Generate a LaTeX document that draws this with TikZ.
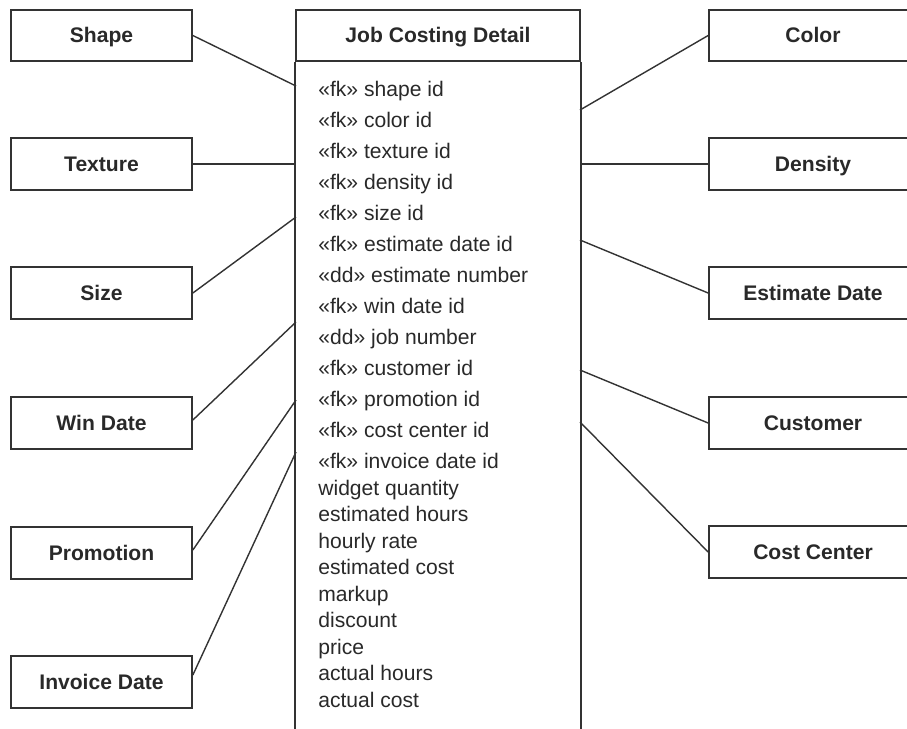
\documentclass[tikz,border=0pt]{standalone}
\usepackage{fontspec}
\setmainfont{Liberation Sans}
\definecolor{ink}{HTML}{333333}

\begin{document}
\begin{tikzpicture}[x=0.02cm, y=-0.02cm,
    ent/.style={draw=ink, line width=1pt, font=\bfseries\fontsize{12}{14}\selectfont,
                text=ink!80!black, minimum height=1.03cm, inner sep=0pt,
                text height=8.6pt, text depth=0.4pt},
    dimL/.style={ent, minimum width=3.62cm},
    dimR/.style={ent, minimum width=4.16cm},
    fact/.style={ent, minimum width=5.68cm},
    attr/.style={anchor=base west, font=\fontsize{12}{14}\selectfont,
                 text=ink!80!black, inner sep=0pt},
    link/.style={draw=ink, line width=0.8pt},
]
\useasboundingbox (0,0) rectangle (907,728);
\clip (0,0) rectangle (907,728);

% Fact table header and open body
\node[fact] (jcd) at (438,35.5) {Job Costing Detail};
\draw[ink, line width=1pt] (jcd.south west) -- ++(0,700)
                           (jcd.south east) -- ++(0,700);

% Keys
\foreach \t [count=\i] in {«fk» shape id, «fk» color id, «fk» texture id,
    «fk» density id, «fk» size id, «fk» estimate date id, «dd» estimate number,
    «fk» win date id, «dd» job number, «fk» customer id, «fk» promotion id,
    «fk» cost center id, «fk» invoice date id}
  \node[attr] (key\i) at (318,65+31*\i) {\t};

% Measures
\foreach \t [count=\i] in {widget quantity, estimated hours, hourly rate,
    estimated cost, markup, discount, price, actual hours, actual cost}
  \node[attr] (msr\i) at (318,468.5+26.5*\i) {\t};

% Left dimensions
\node[dimL] (shape)   at (101.5,35.5) {Shape};
\node[dimL] (texture) at (101.5,164)  {Texture};
\node[dimL] (size)    at (101.5,293)  {Size};
\node[dimL] (windate) at (101.5,423)  {Win Date};
\node[dimL] (promo)   at (101.5,553)  {Promotion};
\node[dimL] (invdate) at (101.5,682)  {Invoice Date};

% Right dimensions
\node[dimR] (color)    at (813,35.5) {Color};
\node[dimR] (density)  at (813,164)  {Density};
\node[dimR] (estdate)  at (813,293)  {Estimate Date};
\node[dimR] (customer) at (813,423)  {Customer};
\node[dimR] (costctr)  at (813,552)  {Cost Center};

% Attach points on the fact table
\coordinate (jShape)    at (296,86);
\coordinate (jTexture)  at (296,164);
\coordinate (jSize)     at (296,217);
\coordinate (jWinDate)  at (296,322);
\coordinate (jPromo)    at (296,400);
\coordinate (jInvDate)  at (296,452);
\coordinate (jColor)    at (580,110);
\coordinate (jDensity)  at (580,164);
\coordinate (jEstDate)  at (580,240);
\coordinate (jCustomer) at (580,370);
\coordinate (jCostCtr)  at (580,422);

% Links
\draw[link] (shape.east)   -- (jShape);
\draw[link] (texture.east) -- (jTexture);
\draw[link] (size.east)    -- (jSize);
\draw[link] ([yshift=0.06cm]windate.east) -- (jWinDate);
\draw[link] ([yshift=0.06cm]promo.east)   -- (jPromo);
\draw[link] ([yshift=0.14cm]invdate.east) -- (jInvDate);

\draw[link] (jColor)    -- (color.west);
\draw[link] (jDensity)  -- (density.west);
\draw[link] (jEstDate)  -- (estdate.west);
\draw[link] (jCustomer) -- (customer.west);
\draw[link] (jCostCtr)  -- (costctr.west);
\end{tikzpicture}
\end{document}
